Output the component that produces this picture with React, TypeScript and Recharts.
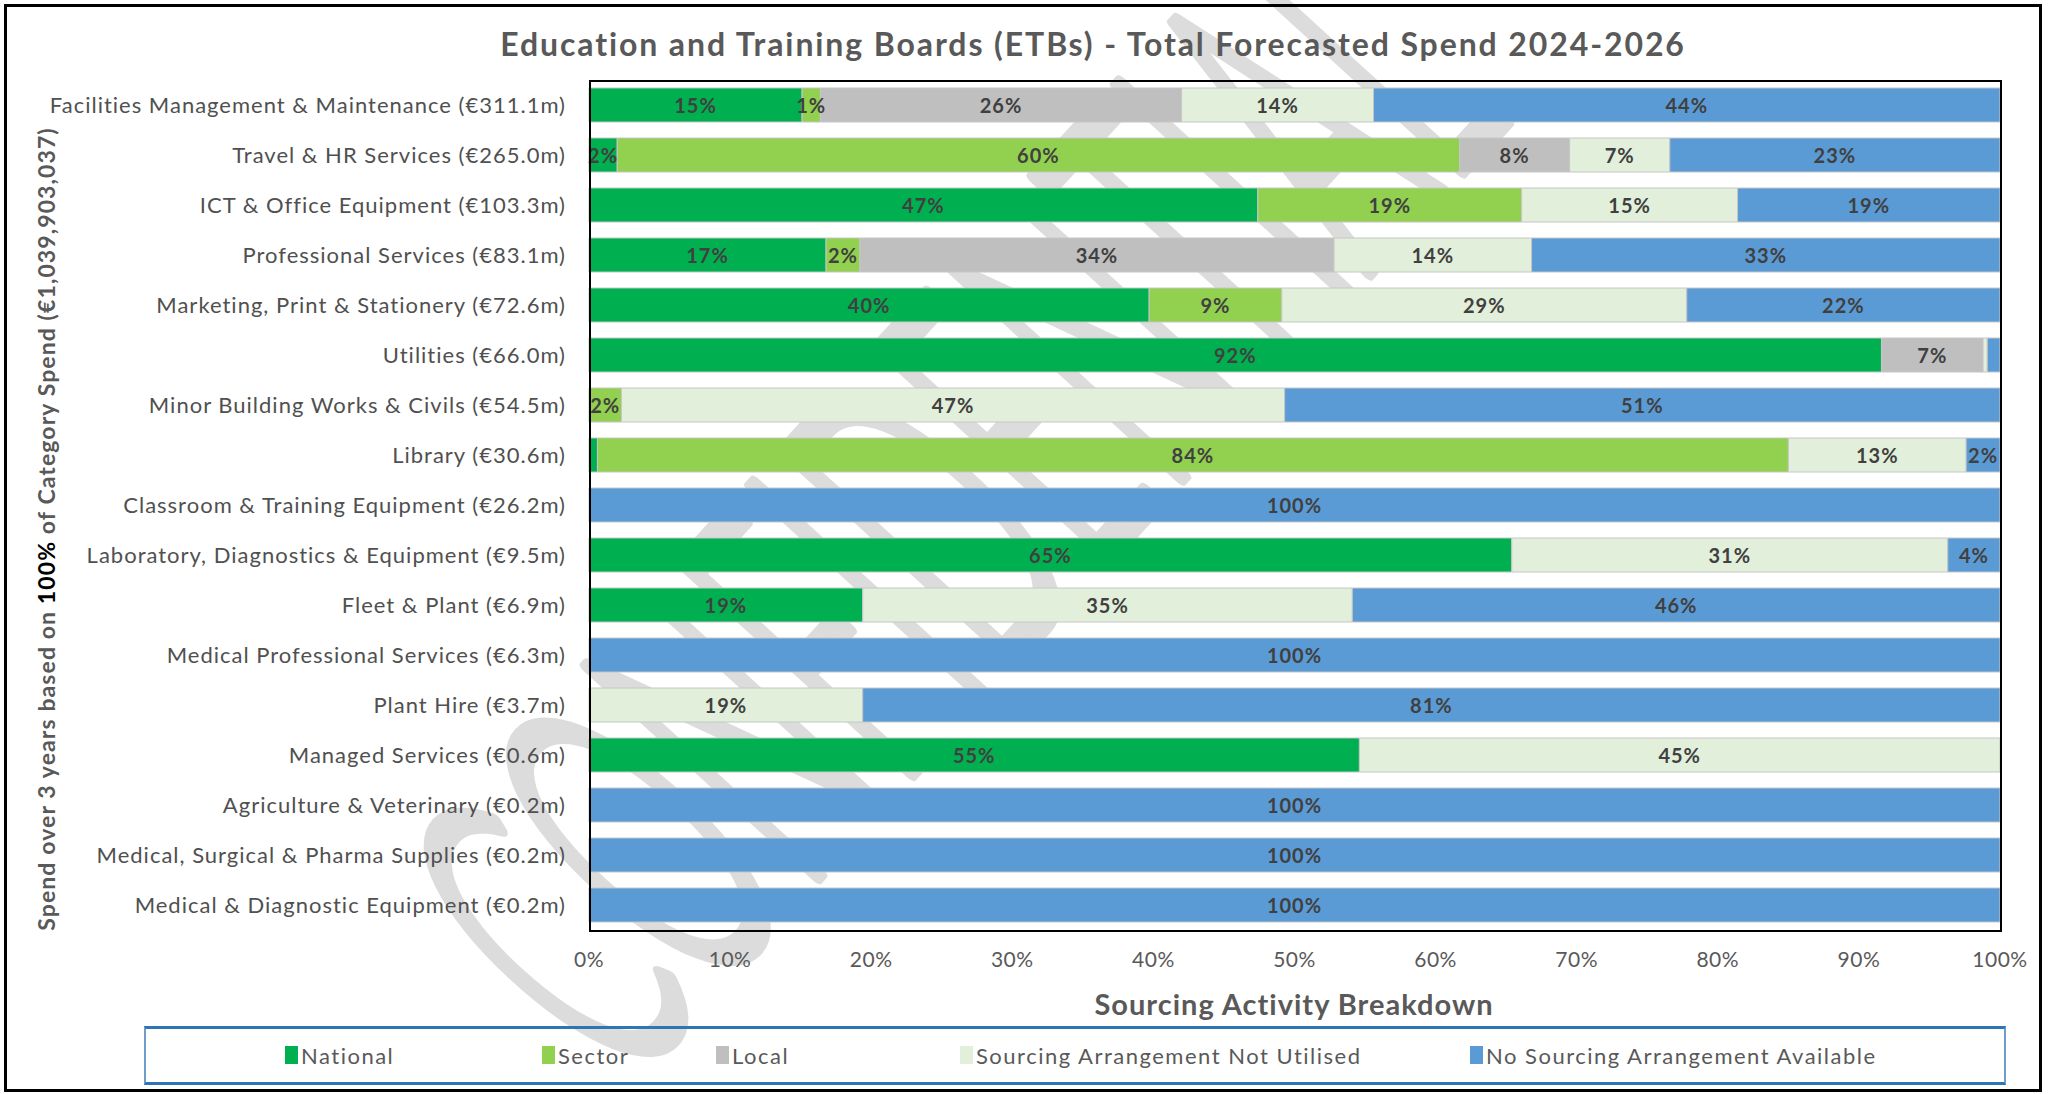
import React from 'react';
import { BarChart, Bar, XAxis, YAxis, LabelList } from 'recharts';

const categories = [
  'Facilities Management & Maintenance (€311.1m)',
  'Travel & HR Services (€265.0m)',
  'ICT & Office Equipment (€103.3m)',
  'Professional Services (€83.1m)',
  'Marketing, Print & Stationery (€72.6m)',
  'Utilities (€66.0m)',
  'Minor Building Works & Civils (€54.5m)',
  'Library (€30.6m)',
  'Classroom & Training Equipment (€26.2m)',
  'Laboratory, Diagnostics & Equipment (€9.5m)',
  'Fleet & Plant (€6.9m)',
  'Medical Professional Services (€6.3m)',
  'Plant Hire (€3.7m)',
  'Managed Services (€0.6m)',
  'Agriculture & Veterinary (€0.2m)',
  'Medical, Surgical & Pharma Supplies (€0.2m)',
  'Medical & Diagnostic Equipment (€0.2m)',
];

// % of category spend
const national = [15.1, 2.0, 47.4, 16.8, 39.7, 91.6, 0, 0.6, 0, 65.4, 19.4, 0, 0, 54.6, 0, 0, 0];
const sector = [1.3, 59.7, 18.7, 2.4, 9.4, 0, 2.3, 84.4, 0, 0, 0, 0, 0, 0, 0, 0, 0];
const local = [25.6, 7.8, 0, 33.6, 0, 7.2, 0, 0, 0, 0, 0, 0, 0, 0, 0, 0, 0];
const notUtilised = [13.6, 7.1, 15.3, 14.0, 28.7, 0.3, 47.0, 12.6, 0, 30.9, 34.7, 0, 19.4, 45.4, 0, 0, 0];
const noArrangement = [44.4, 23.4, 18.6, 33.2, 22.2, 0.9, 50.7, 2.4, 100, 3.7, 45.9, 100, 80.6, 0, 100, 100, 100];

const xTicks = [0, 10, 20, 30, 40, 50, 60, 70, 80, 90, 100];

const series = [
  { key: 'national', name: 'National', color: '#00B050' },
  { key: 'sector', name: 'Sector', color: '#92D050' },
  { key: 'local', name: 'Local', color: '#BFBFBF' },
  { key: 'notUtilised', name: 'Sourcing Arrangement Not Utilised', color: '#E2EFDA' },
  { key: 'noArrangement', name: 'No Sourcing Arrangement Available', color: '#5B9BD5' },
];

const data = categories.map((name, i) => ({
  name,
  national: national[i],
  sector: sector[i],
  local: local[i],
  notUtilised: notUtilised[i],
  noArrangement: noArrangement[i],
}));

const FONT = 'Lato, "Open Sans", sans-serif';
const GREY = '#595959';

const renderLabel = (props: any) => {
  const { x, y, width, height, value } = props;
  if (value == null || value < 1) return null;
  return (
    <text
      x={x + width / 2}
      y={y + height / 2}
      textAnchor="middle"
      dominantBaseline="central"
      fill="#404040"
      fontSize={20}
      fontWeight={700}
      letterSpacing={1}
      fontFamily={FONT}
    >
      {Math.round(value)}%
    </text>
  );
};

// legend item left edges
const legendX = [285, 542, 716, 960, 1470];

export default function App() {
  return (
    <div style={{ position: 'absolute', left: 0, top: 0, width: 2049, height: 1094, background: '#fff', fontFamily: FONT }}>
      {/* watermark sits behind the bars */}
      <svg width={2049} height={1094} style={{ position: 'absolute', left: 0, top: 0 }}>
        <g transform="translate(940 490) rotate(-47.6)">
          <text
            x={0}
            y={0}
            transform="scale(0.42 1)"
            textAnchor="middle"
            dominantBaseline="central"
            fontSize={440}
            fontWeight={300}
            fontFamily={FONT}
            fill="#dcdcdc"
            stroke="#dcdcdc"
            strokeWidth={12}
            strokeLinejoin="round"
            vectorEffect="non-scaling-stroke"
          >
            CONFIDENTIAL
          </text>
        </g>
      </svg>

      <div style={{ position: 'absolute', left: 4, top: 4, width: 2032, height: 1082, border: '3px solid #000' }} />
      <div
        style={{
          position: 'absolute', left: 393, width: 1400, top: 24, textAlign: 'center',
          fontSize: 32, fontWeight: 700, color: GREY, whiteSpace: 'nowrap', letterSpacing: 1.9,
        }}
      >
        Education and Training Boards (ETBs) - Total Forecasted Spend 2024-2026
      </div>
      <div style={{ position: 'absolute', left: 46, top: 529, width: 0, height: 0 }}>
        <div
          style={{
            position: 'absolute', left: -500, top: -14, width: 1000, textAlign: 'center',
            transform: 'rotate(-90deg)', fontSize: 23, fontWeight: 700, color: GREY, whiteSpace: 'nowrap',
            letterSpacing: 1.1,
          }}
        >
          Spend over 3 years based on <span style={{ color: '#000' }}>100%</span> of Category Spend (€1,039,903,037)
        </div>
      </div>

      <div style={{ position: 'absolute', left: 0, top: 0 }}>
        <BarChart
          width={2049}
          height={1000}
          data={data}
          layout="vertical"
          margin={{ top: 80, right: 49, bottom: 0, left: 0 }}
        >
          <XAxis
            type="number"
            domain={[0, 100]}
            ticks={xTicks}
            tickFormatter={(v: number) => `${v}%`}
            height={70}
            tickLine={false}
            tickSize={0}
            tickMargin={22}
            axisLine={false}
            tick={{ fill: GREY, fontSize: 21, fontFamily: FONT, letterSpacing: 0.5 }}
            interval={0}
          />
          <YAxis
            type="category"
            dataKey="name"
            width={589}
            tickLine={false}
            tickSize={0}
            tickMargin={23}
            axisLine={false}
            interval={0}
            tick={{ fill: '#505050', fontSize: 22, fontFamily: FONT, letterSpacing: 1 }}
          />
          {series.map((s) => (
            <Bar
              key={s.key}
              dataKey={s.key}
              name={s.name}
              stackId="a"
              fill={s.color}
              stroke="#c6c6c6"
              strokeWidth={1}
              barSize={34}
              isAnimationActive={false}
            >
              <LabelList dataKey={s.key} content={renderLabel} />
            </Bar>
          ))}
        </BarChart>
      </div>

      <div style={{ position: 'absolute', left: 589, top: 80, width: 1409, height: 848, border: '2px solid #000', pointerEvents: 'none' }} />

      <div
        style={{
          position: 'absolute', left: 1044, width: 500, top: 986, textAlign: 'center',
          fontSize: 29, fontWeight: 700, color: GREY, whiteSpace: 'nowrap', letterSpacing: 1,
        }}
      >
        Sourcing Activity Breakdown
      </div>

      <div
        style={{
          position: 'absolute', left: 144, top: 1026, width: 1858, height: 53,
          borderTop: '3px solid #2E75B6', borderBottom: '3px solid #2E75B6',
          borderLeft: '2px solid #6f9cc9', borderRight: '2px solid #6f9cc9',
        }}
      />
      {series.map((s, i) => (
        <div
          key={s.key}
          style={{
            position: 'absolute', left: legendX[i], top: 1042, height: 26, display: 'flex', alignItems: 'center',
            fontSize: 22, color: GREY, whiteSpace: 'nowrap', letterSpacing: 1.5,
          }}
        >
          <span style={{ display: 'inline-block', width: 13, height: 18, background: s.color, marginRight: 3 }} />
          {s.name}
        </div>
      ))}
    </div>
  );
}
